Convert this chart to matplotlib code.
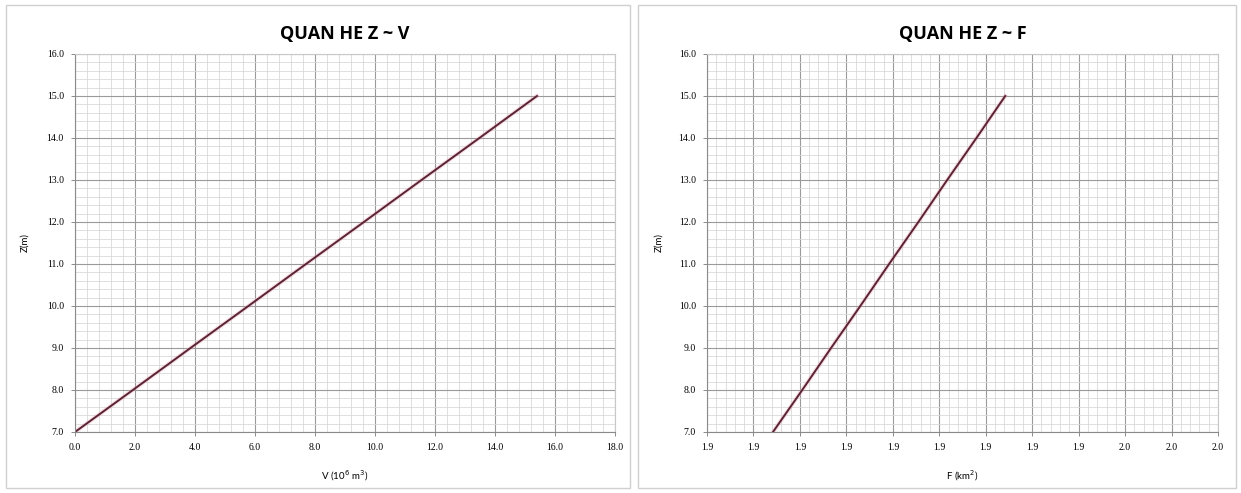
import numpy as np
import matplotlib.pyplot as plt
from matplotlib.ticker import MultipleLocator, FixedLocator, FixedFormatter
from matplotlib.patches import Rectangle

# water level Z (m) vs volume V (10^6 m3) and area F (km2)
z_levels = [7.0, 8.0, 9.0, 10.0, 11.0, 12.0, 13.0, 14.0, 15.0]
v_values = [0.0, 1.93, 3.85, 5.78, 7.70, 9.63, 11.55, 13.48, 15.40]
f_values = [1.8742, 1.8805, 1.8867, 1.8930, 1.8992, 1.9055, 1.9117, 1.9180, 1.9242]

f_ticks = [1.86, 1.87, 1.88, 1.89, 1.90, 1.91, 1.92, 1.93, 1.94, 1.95, 1.96, 1.97]
f_tick_labels = ['1.9', '1.9', '1.9', '1.9', '1.9', '1.9', '1.9', '1.9', '1.9', '2.0', '2.0', '2.0']

W, H = 1241, 493
fig = plt.figure(figsize=(W / 100, H / 100), dpi=100)

# panel borders
for x0, x1 in [(6, 630), (638, 1236)]:
    fig.patches.append(Rectangle((x0 / W, 5 / H), (x1 - x0) / W, 483 / H,
                                 transform=fig.transFigure, fill=False,
                                 edgecolor='#d0d0d0', linewidth=1.0))

ax_v = fig.add_axes([75 / W, 61 / H, 540 / W, 378 / H])
ax_f = fig.add_axes([707 / W, 61 / H, 511 / W, 378 / H])

serif = 'Liberation Serif'
label_font = 'Lato'


def style_axes(ax):
    ax.set_ylim(7, 16)
    ax.yaxis.set_major_locator(MultipleLocator(1))
    ax.yaxis.set_minor_locator(MultipleLocator(0.2))
    ax.yaxis.set_major_formatter(plt.FormatStrFormatter('%.1f'))
    ax.grid(which='major', color='#9a9a9a', linewidth=0.8)
    ax.grid(which='minor', color='#d9d9d9', linewidth=0.6)
    ax.set_axisbelow(True)
    for s in ax.spines.values():
        s.set_color('#c8c8c8')
        s.set_linewidth(0.8)
    ax.spines['left'].set_color('#8a8a8a')
    ax.spines['bottom'].set_color('#8a8a8a')
    ax.tick_params(which='major', length=3, width=0.7, color='#8a8a8a',
                   labelsize=7, pad=5)
    ax.tick_params(which='minor', length=0)
    for lbl in ax.get_xticklabels() + ax.get_yticklabels():
        lbl.set_fontfamily(serif)
    ax.set_ylabel('Z(m)', fontsize=7, family=label_font)


# Z ~ V
ax_v.plot(v_values, z_levels, color='#e8a0b0', linewidth=3.0, alpha=0.35)
ax_v.plot(v_values, z_levels, color='#5a2333', linewidth=1.4)
ax_v.set_xlim(0, 18)
ax_v.xaxis.set_major_locator(MultipleLocator(2))
ax_v.xaxis.set_minor_locator(MultipleLocator(0.4))
ax_v.xaxis.set_major_formatter(plt.FormatStrFormatter('%.1f'))
style_axes(ax_v)
ax_v.set_xlabel('V (10$^{6}$ m$^{3}$)', fontsize=7, family=label_font)
ax_v.xaxis.set_label_coords(0.5, -0.095)
ax_v.yaxis.set_label_coords(-0.085, 0.5)
ax_v.set_title('QUAN HE Z ~ V', fontsize=13, fontweight='bold',
               family='Open Sans', pad=11)

# Z ~ F
ax_f.plot(f_values, z_levels, color='#e8a0b0', linewidth=3.0, alpha=0.35)
ax_f.plot(f_values, z_levels, color='#5a2333', linewidth=1.4)
ax_f.set_xlim(1.86, 1.97)
ax_f.xaxis.set_major_locator(FixedLocator(f_ticks))
ax_f.xaxis.set_major_formatter(FixedFormatter(f_tick_labels))
ax_f.xaxis.set_minor_locator(MultipleLocator(0.002))
style_axes(ax_f)
ax_f.set_xlabel('F (km$^{2}$)', fontsize=7, family=label_font)
ax_f.xaxis.set_label_coords(0.5, -0.095)
ax_f.yaxis.set_label_coords(-0.085, 0.5)
ax_f.set_title('QUAN HE Z ~ F', fontsize=13, fontweight='bold',
               family='Open Sans', pad=11)

fig.savefig('out.png', dpi=100)
